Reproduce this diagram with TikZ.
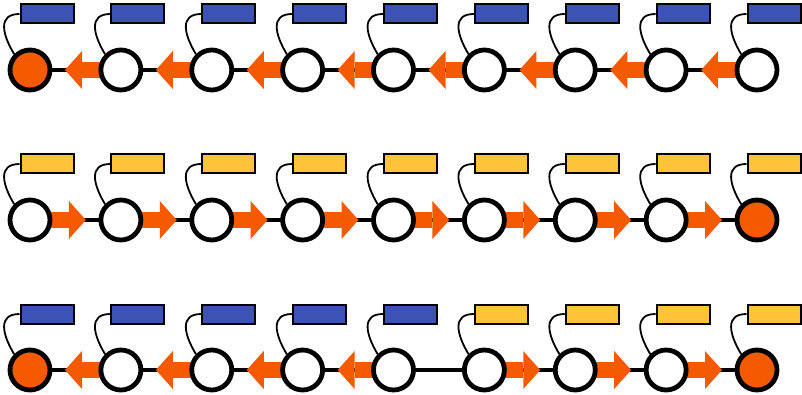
\documentclass[tikz,border=0pt]{standalone}
\usetikzlibrary{arrows.meta,backgrounds}
\definecolor{chainblue}{RGB}{61,82,181}
\definecolor{chainyellow}{RGB}{255,195,58}
\definecolor{chainorange}{RGB}{245,90,0}
\begin{document}
\begin{tikzpicture}[
      x=1pt, y=-1pt,
      site/.style={draw, circle, line width=4.8pt, fill=white, minimum size=40pt, inner sep=0pt},
      tag/.style={draw, line width=2pt, minimum width=53pt, minimum height=19pt, inner sep=0pt},
      bond/.style={line width=4pt},
      flow/.style={draw=chainorange, line width=16pt, -{Triangle[width=38pt,length=17pt,line width=0pt]}},
      link/.style={line width=1.8pt}
    ]
      \useasboundingbox (0,0) rectangle (802,395);

      % row a: all to the left end
      \foreach \i/\f in {1/chainorange,2/white,3/white,4/white,5/white,6/white,7/white,8/white,9/white}{
        \pgfmathsetmacro\x{30+90.875*(\i-1)}
        \node[site, fill=\f] (a\i) at (\x,70) {};
        \node[tag, fill=chainblue] (ta\i) at (\x+17,14) {};
        \draw[link] (ta\i.west) .. controls +(-22,0) and +(-12,-20) .. (a\i.135);
      }

      % row b: all to the right end
      \foreach \i/\f in {1/white,2/white,3/white,4/white,5/white,6/white,7/white,8/white,9/chainorange}{
        \pgfmathsetmacro\x{30+90.875*(\i-1)}
        \node[site, fill=\f] (b\i) at (\x,220) {};
        \node[tag, fill=chainyellow] (tb\i) at (\x+17,164) {};
        \draw[link] (tb\i.west) .. controls +(-22,0) and +(-12,-20) .. (b\i.135);
      }

      % row c: split in the middle
      \foreach \i/\f/\t in {1/chainorange/chainblue,2/white/chainblue,3/white/chainblue,4/white/chainblue,5/white/chainblue,
                            6/white/chainyellow,7/white/chainyellow,8/white/chainyellow,9/chainorange/chainyellow}{
        \pgfmathsetmacro\x{30+90.875*(\i-1)}
        \node[site, fill=\f] (c\i) at (\x,370) {};
        \node[tag, fill=\t] (tc\i) at (\x+17,314) {};
        \draw[link] (tc\i.west) .. controls +(-22,0) and +(-12,-20) .. (c\i.135);
      }

      \begin{scope}[on background layer]
        \draw[bond] (a1) -- (a9);
        \draw[bond] (b1) -- (b9);
        \draw[bond] (c1) -- (c9);
        \foreach \i [count=\j from 2] in {1,...,8}{
          \draw[flow] (a\j.center) -- ([xshift=35pt]a\i.center);
          \draw[flow] (b\i.center) -- ([xshift=-35pt]b\j.center);
        }
        \foreach \i [count=\j from 2] in {1,...,4}
          \draw[flow] (c\j.center) -- ([xshift=35pt]c\i.center);
        \foreach \i [count=\j from 7] in {6,...,8}
          \draw[flow] (c\i.center) -- ([xshift=-35pt]c\j.center);
      \end{scope}
    \end{tikzpicture}
\end{document}
